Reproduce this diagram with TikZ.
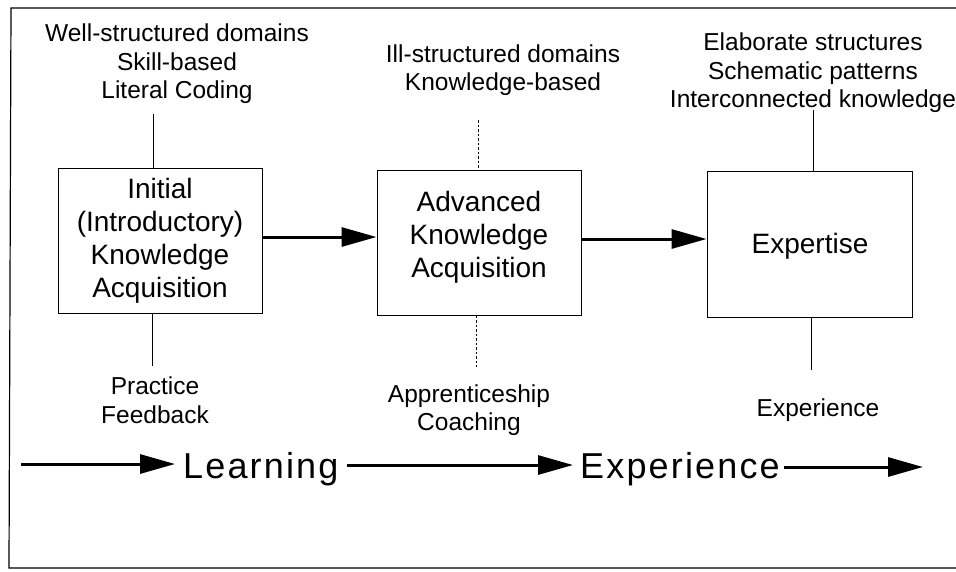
\documentclass[tikz,border=0pt]{standalone}
\usepackage{fontspec}
\setmainfont{Liberation Sans}
\usetikzlibrary{arrows.meta}
\begin{document}
\begin{tikzpicture}[x=1pt,y=-1pt,
  lbl/.style={align=center, font=\fontsize{24.5}{28.5}\selectfont, inner sep=0pt},
  boxn/.style={draw, line width=1pt, minimum width=204pt, minimum height=145pt, align=center, font=\fontsize{28}{33}\selectfont, inner sep=0pt},
  boxt/.style={align=center, font=\fontsize{28}{33}\selectfont, inner sep=0pt},
  big/.style={font=\fontsize{36}{40}\selectfont\addfontfeature{LetterSpace=6}, inner sep=0pt},
  thinl/.style={line width=0.8pt},
  dashl/.style={line width=0.8pt, dash pattern=on 2.5pt off 2pt},
  flow/.style={line width=3pt, -{Triangle[length=35pt,width=19pt]}}]
\useasboundingbox (0,0) rectangle (956,571);
% frame
\draw[line width=1.2pt] (956,8) -- (11,8) -- (9,568) -- (956,568);
% boxes
\node[boxn] (b1) at (160,240.5) {Initial\\(Introductory)\\Knowledge\\Acquisition};
\node[boxn] (b2) at (479,242.5) {};
\node[boxt] (b2t) at (479,237) {Advanced\\Knowledge\\Acquisition};
\node[boxn, minimum width=205pt, minimum height=146pt] (b3) at (809.5,244) {};
\node[boxt] (b3t) at (810,246) {Expertise};
% top labels
\node[lbl] (t1) at (177,64) {Well-structured domains\\Skill-based\\Literal Coding};
\node[lbl] (t2) at (503,70) {Ill-structured domains\\Knowledge-based};
\node[lbl] (t3) at (813,73) {Elaborate structures\\Schematic patterns\\Interconnected knowledge};
% bottom labels
\node[lbl] (u1) at (155,400) {Practice\\Feedback};
\node[lbl] (u2) at (469,410) {Apprenticeship\\Coaching};
\node[lbl] (u3) at (818,410) {Experience};
% connector ends
\coordinate (c1) at (153,114);
\coordinate (d1) at (152,366);
\coordinate (c2) at (478,120);
\coordinate (d2) at (476,367);
\coordinate (c3) at (813,110);
\coordinate (d3) at (811,370);
\draw[thinl] (c1) -- (c1 |- b1.north);
\draw[thinl] (b1.south -| d1) -- (d1);
\draw[dashl] (c2) -- (c2 |- b2.north);
\draw[dashl] (b2.south -| d2) -- (d2);
\draw[thinl] (c3) -- (c3 |- b3.north);
\draw[thinl] (b3.south -| d3) -- (d3);
% main flow arrows
\coordinate (m1) at (0,237);
\coordinate (m2) at (0,239);
\draw[flow] (b1.east |- m1) -- (b2.west |- m1);
\draw[flow] (b2.east |- m2) -- (b3.west |- m2);
% learning / experience
\node[big, anchor=base west] (L) at (183,478) {Learning};
\node[big, anchor=base west] (E) at (580,478) {Experience};
\coordinate (a0) at (21,464);
\coordinate (a1) at (0,465);
\coordinate (a2) at (923,467);
\draw[flow, shorten >=8pt] (a0) -- (a0 -| L.west);
\draw[flow, shorten <=8pt, shorten >=7pt] (L.east |- a1) -- (E.west |- a1);
\draw[flow, shorten <=4pt] (E.east |- a2) -- (a2);
\end{tikzpicture}
\end{document}
